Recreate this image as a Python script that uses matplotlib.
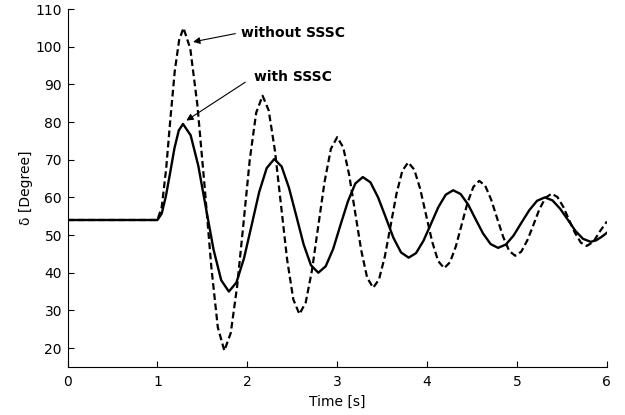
import matplotlib
matplotlib.use("Agg")
import matplotlib.pyplot as plt

plt.rcParams['font.family'] = ['DejaVu Sans']

# rotor angle without SSSC (dashed)
t_without = [0.0, 1.0, 1.048, 1.097, 1.145, 1.193, 1.242, 1.29,
             1.366, 1.445, 1.525, 1.6, 1.672, 1.745,
             1.816, 1.887, 1.958, 2.028, 2.099, 2.17,
             2.238, 2.307, 2.375, 2.443, 2.512, 2.58,
             2.65, 2.72, 2.79, 2.86, 2.93, 3.0,
             3.067, 3.133, 3.2, 3.267, 3.333, 3.4,
             3.465, 3.53, 3.595, 3.66, 3.725, 3.79,
             3.857, 3.923, 3.99, 4.057, 4.123, 4.19,
             4.255, 4.32, 4.385, 4.45, 4.515, 4.58,
             4.647, 4.713, 4.78, 4.847, 4.913, 4.98,
             5.048, 5.115, 5.183, 5.25, 5.318, 5.385,
             5.45, 5.515, 5.58, 5.645, 5.71, 5.775,
             5.85, 5.92, 6.0]
d_without = [54, 54, 57.4, 67.5, 81.0, 93.5, 101.8, 105,
             99.5, 84.5, 63.0, 41.5, 25.5, 19.3,
             24.0, 36.4, 53.2, 70.1, 82.5, 87,
             83.1, 72.5, 58.0, 43.5, 32.9, 29,
             32.1, 40.7, 52.5, 64.2, 72.9, 76,
             73.3, 66.0, 56.0, 46.0, 38.7, 36,
             38.2, 44.3, 52.6, 61.0, 67.1, 69.3,
             67.4, 62.3, 55.2, 48.2, 43.1, 41.2,
             42.8, 47.0, 52.8, 58.6, 62.8, 64.4,
             63.1, 59.4, 54.4, 49.5, 45.8, 44.5,
             45.6, 48.6, 52.7, 56.9, 59.9, 61,
             60.1, 57.5, 54.0, 50.6, 48.0, 47.1,
             48.2, 50.9, 53.6]

# rotor angle with SSSC (solid)
t_with = [0.0, 1.0, 1.048, 1.095, 1.143, 1.19, 1.238, 1.285,
          1.37, 1.455, 1.54, 1.625, 1.71, 1.795,
          1.879, 1.963, 2.048, 2.132, 2.216, 2.3,
          2.382, 2.463, 2.545, 2.627, 2.708, 2.79,
          2.872, 2.955, 3.037, 3.12, 3.202, 3.285,
          3.37, 3.455, 3.54, 3.625, 3.71, 3.795,
          3.877, 3.96, 4.042, 4.125, 4.207, 4.29,
          4.373, 4.457, 4.54, 4.623, 4.707, 4.79,
          4.877, 4.963, 5.05, 5.137, 5.223, 5.31,
          5.395, 5.48, 5.565, 5.65, 5.735, 5.82,
          5.88, 5.94, 6.0]
d_with = [54, 54, 55.7, 60.4, 66.7, 73.1, 77.8, 79.5,
          76.5, 68.4, 57.2, 46.1, 38.0, 35,
          37.4, 43.8, 52.6, 61.4, 67.8, 70.2,
          68.2, 62.6, 55.1, 47.5, 42.0, 40,
          41.7, 46.3, 52.7, 59.0, 63.7, 65.4,
          64.0, 60.0, 54.7, 49.3, 45.4, 44,
          45.2, 48.5, 52.9, 57.4, 60.7, 61.9,
          60.9, 58.1, 54.2, 50.4, 47.6, 46.6,
          47.5, 49.9, 53.3, 56.6, 59.1, 60,
          59.2, 57.0, 54.1, 51.1, 49.0, 48.2,
          48.6, 49.5, 50.6]

x_ticks = [0, 1, 2, 3, 4, 5, 6]
y_ticks = [20, 30, 40, 50, 60, 70, 80, 90, 100, 110]

fig = plt.figure(figsize=(6.25, 4.15), dpi=100)
ax = fig.add_axes([0.108, 0.116, 0.863, 0.862])

ax.plot(t_without, d_without, color='k', lw=1.6, linestyle=(0, (3, 1.6)),
        dash_joinstyle='round', dash_capstyle='butt')
ax.plot(t_with, d_with, color='k', lw=1.7, solid_joinstyle='round')

ax.set_xlim(0, 6)
ax.set_ylim(15, 110)
ax.set_xticks(x_ticks)
ax.set_yticks(y_ticks)
ax.tick_params(direction='in', length=4, width=0.8, labelsize=10)
ax.tick_params(axis='x', pad=6)
ax.tick_params(axis='y', pad=4)
ax.spines['top'].set_visible(False)
ax.spines['right'].set_visible(False)
ax.set_xlabel('Time [s]', fontsize=10, labelpad=4)
ax.set_ylabel('δ [Degree]', fontsize=10, labelpad=2)

arrow = dict(arrowstyle='-|>', color='k', lw=0.8, mutation_scale=10,
             shrinkA=0, shrinkB=0)
ax.annotate('', xy=(1.397, 101.3), xytext=(1.867, 103.5), arrowprops=arrow)
ax.text(1.93, 103.7, 'without SSSC', fontsize=10, fontweight='bold',
        va='center', ha='left')
ax.annotate('', xy=(1.322, 80.4), xytext=(1.978, 90.6), arrowprops=arrow)
ax.text(2.078, 91.95, 'with SSSC', fontsize=10, fontweight='bold',
        va='center', ha='left')

fig.savefig('out.png', dpi=100)
